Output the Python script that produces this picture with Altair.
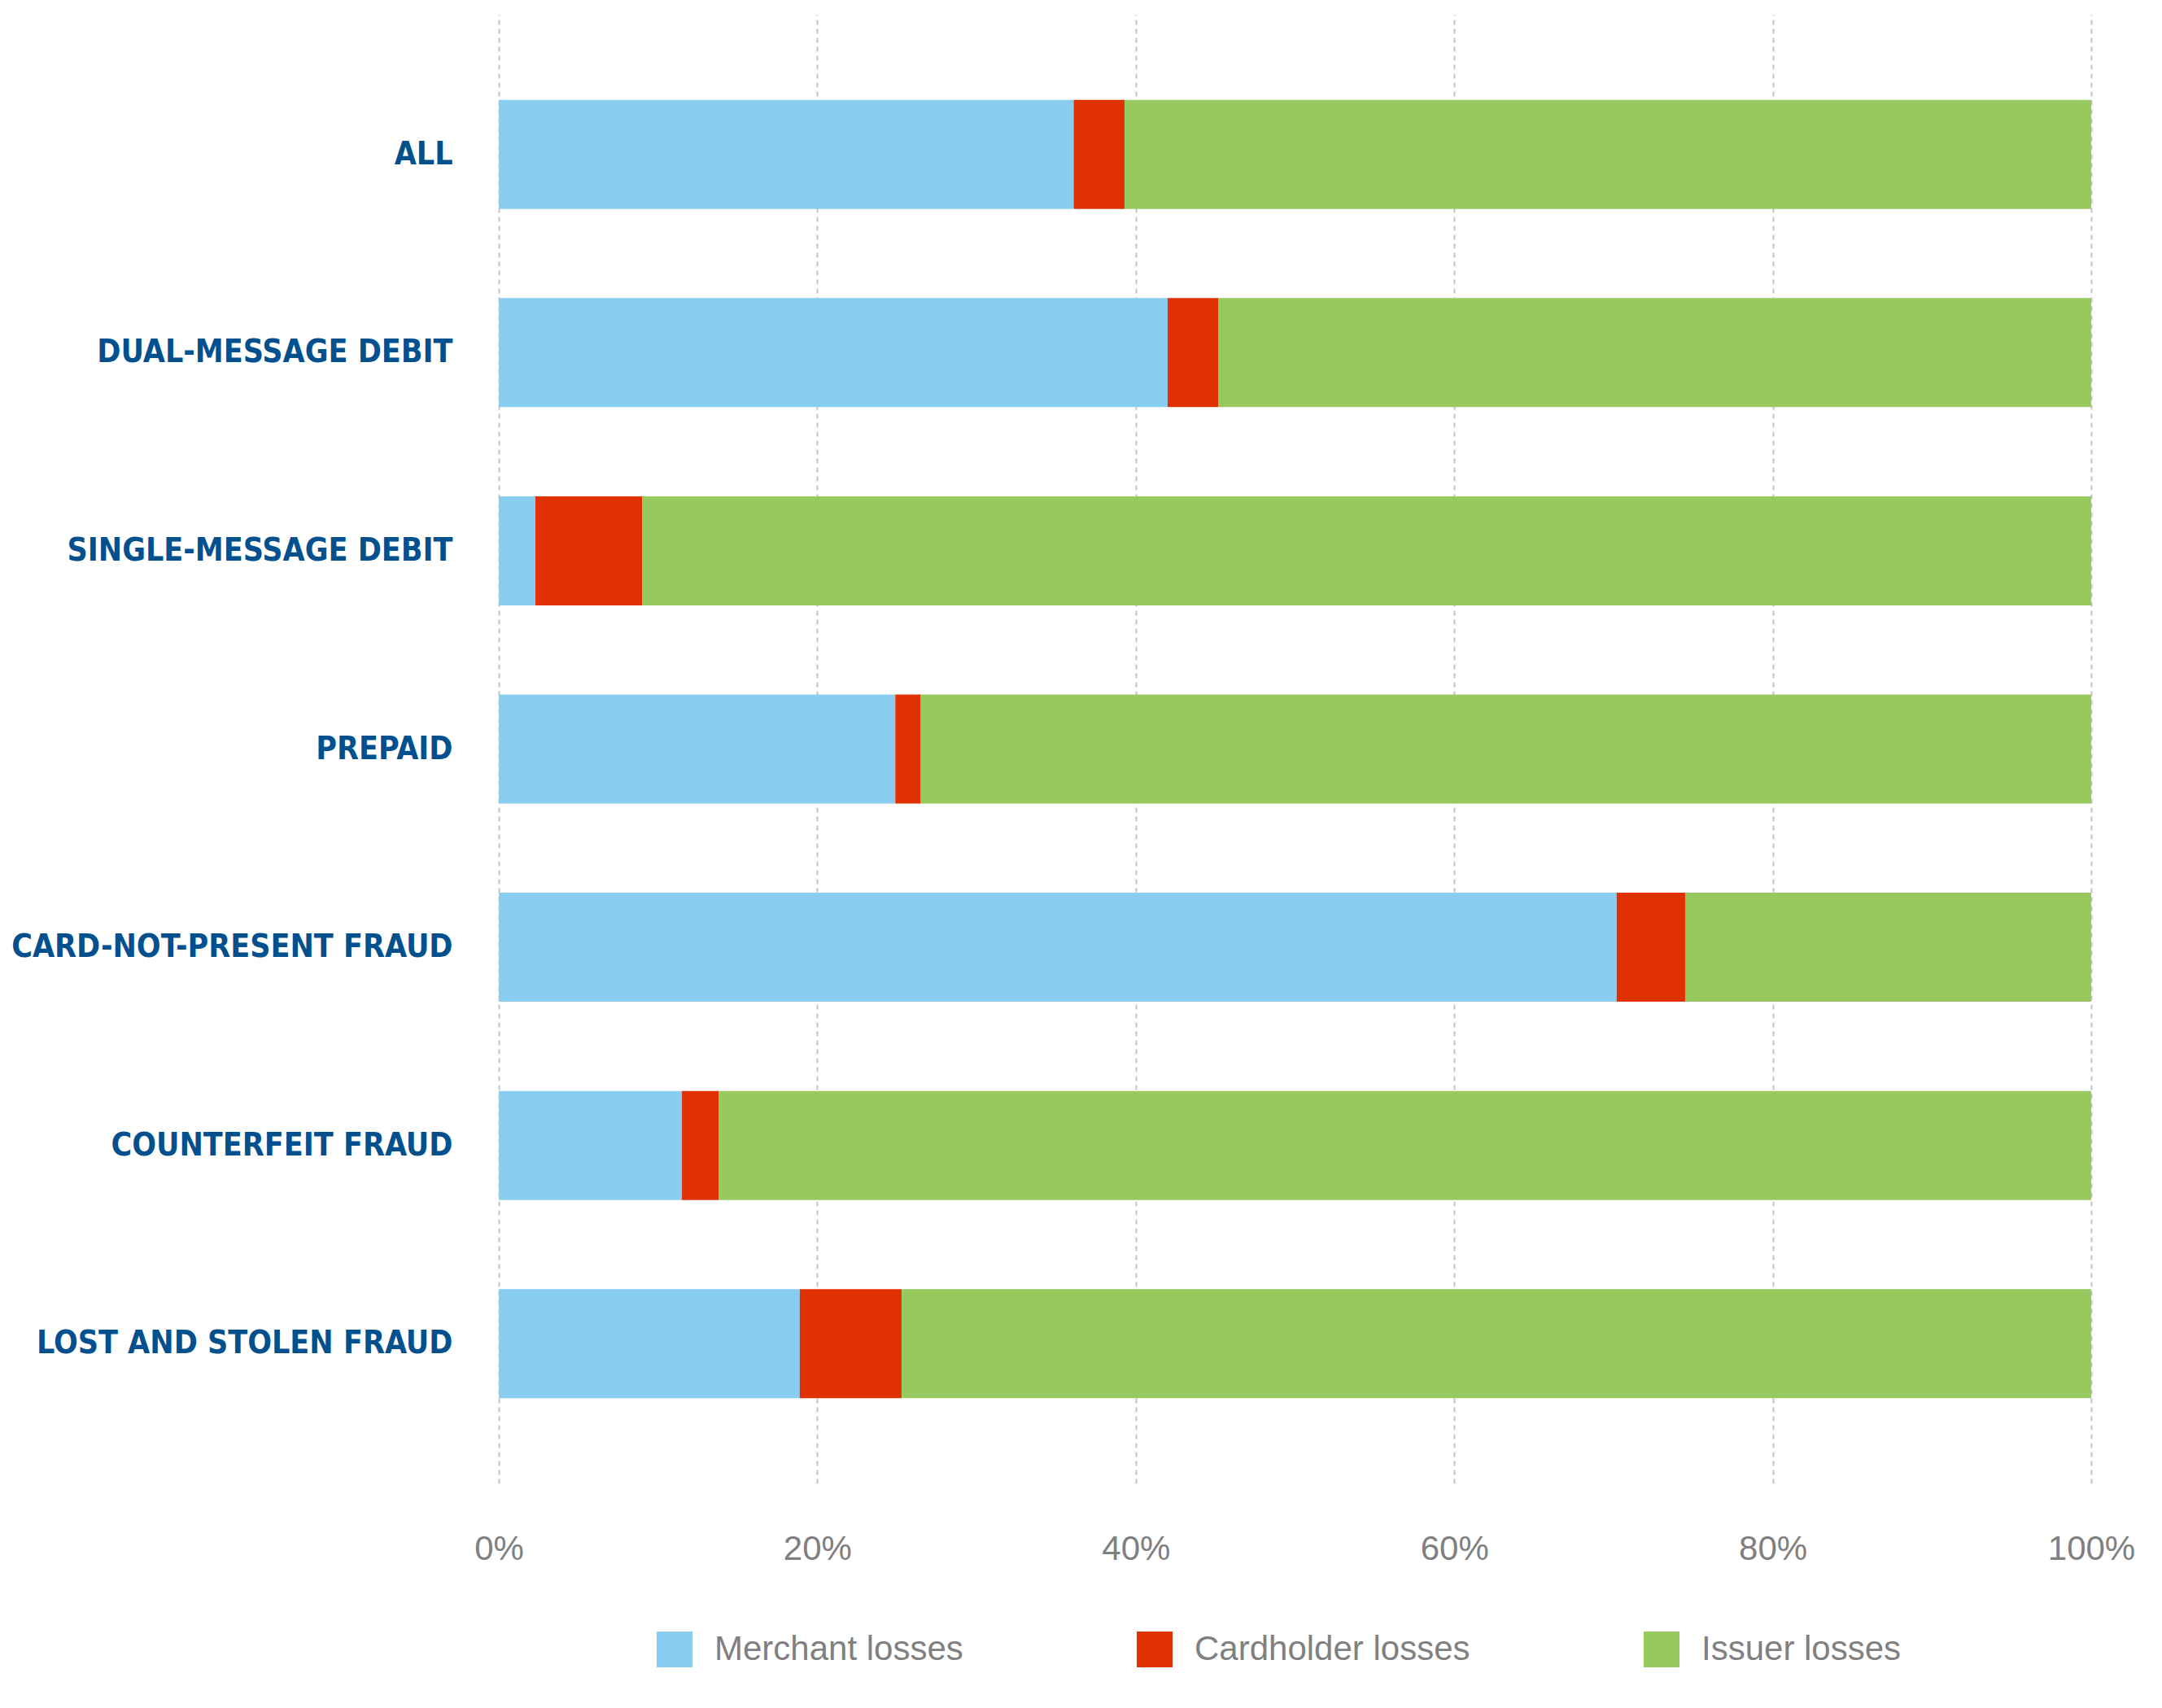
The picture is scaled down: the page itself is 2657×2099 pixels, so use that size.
import altair as alt
import pandas as pd

categories = [
    "ALL",
    "DUAL-MESSAGE DEBIT",
    "SINGLE-MESSAGE DEBIT",
    "PREPAID",
    "CARD-NOT-PRESENT FRAUD",
    "COUNTERFEIT FRAUD",
    "LOST AND STOLEN FRAUD",
]
merchant = [36.1, 42.0, 2.3, 24.9, 70.2, 11.5, 18.9]
cardholder = [3.2, 3.2, 6.7, 1.6, 4.3, 2.3, 6.4]
issuer = [60.7, 54.8, 91.0, 73.5, 25.5, 86.2, 74.7]

series_names = ["Merchant losses", "Cardholder losses", "Issuer losses"]
series_colors = ["#89CDF1", "#E03103", "#97C95F"]
tick_values = [0, 20, 40, 60, 80, 100]

rows = []
for i, c in enumerate(categories):
    for k, (name, vals) in enumerate(zip(series_names, [merchant, cardholder, issuer])):
        rows.append({"category": c, "series": name, "value": vals[i], "order": k})
df = pd.DataFrame(rows)

chart = (
    alt.Chart(df)
    .mark_bar()
    .encode(
        y=alt.Y(
            "category:N",
            sort=categories,
            scale=alt.Scale(paddingInner=0.45, paddingOuter=0.43),
            axis=alt.Axis(
                title=None,
                domain=False,
                ticks=False,
                labelFont="Liberation Sans Narrow, DejaVu Sans Condensed, sans-serif",
                labelFontWeight="bold",
                labelFontSize=39,
                labelColor="#03508F",
                labelPadding=57,
                labelLimit=800,
            ),
        ),
        x=alt.X(
            "value:Q",
            stack="zero",
            scale=alt.Scale(domain=[0, 100], nice=False),
            axis=alt.Axis(
                title=None,
                values=tick_values,
                labelExpr="datum.value + '%'",
                domain=False,
                ticks=False,
                tickSize=0,
                grid=True,
                gridDash=[6, 5],
                gridColor="#C4C4C4",
                gridWidth=2,
                labelFont="Liberation Sans, Arial, sans-serif",
                labelFontSize=42,
                labelColor="#808080",
                labelPadding=60,
                labelFlush=False,
            ),
        ),
        color=alt.Color(
            "series:N",
            scale=alt.Scale(domain=series_names, range=series_colors),
            legend=alt.Legend(
                title=None,
                orient="none",
                legendX=194,
                legendY=1987,
                direction="horizontal",
                columns=3,
                columnPadding=213,
                symbolType="square",
                symbolSize=1936,
                symbolStrokeWidth=0,
                symbolOpacity=1,
                labelOffset=27,
                labelFont="Liberation Sans, Arial, sans-serif",
                labelFontSize=42,
                labelColor="#808080",
                padding=0,
                labelLimit=600,
            ),
        ),
        order=alt.Order("order:Q"),
    )
    .properties(
        width=1957,
        height=1805,
        autosize=alt.AutoSizeParams(type="none"),
        padding={"left": 605, "top": 10, "right": 79, "bottom": 268},
    )
    .configure(background="white")
    .configure_view(stroke=None)
)

chart.save("out.html", embed_options={"renderer": "svg", "actions": False})
